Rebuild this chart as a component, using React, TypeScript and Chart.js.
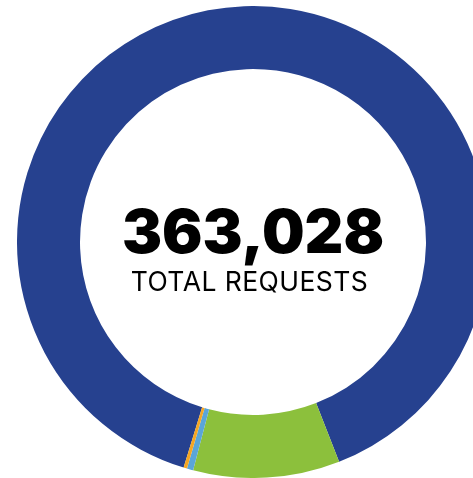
import React, { useEffect, useRef } from "react";
import { Chart, registerables } from "chart.js";

Chart.register(...registerables);

const categories = ["Category A", "Category B", "Category C", "Category D"];
const values = [324208, 36400, 1560, 860];
const colors = ["#26418f", "#8cc03c", "#5aa5d8", "#f5a623"];
const totalLabel = "363,028";
const subLabel = "TOTAL REQUESTS";

export default function App() {
  const ref = useRef<HTMLCanvasElement | null>(null);

  useEffect(() => {
    if (!ref.current) return;
    const chart = new Chart(ref.current, {
      type: "doughnut",
      data: {
        labels: categories,
        datasets: [
          {
            data: values,
            backgroundColor: colors,
            borderWidth: 0,
          },
        ],
      },
      options: {
        animation: false,
        responsive: true,
        maintainAspectRatio: false,
        cutout: "73.3%",
        rotation: 197.1,
        layout: { padding: 0 },
        plugins: {
          legend: { display: false },
          tooltip: { enabled: false },
        },
      },
    });
    return () => chart.destroy();
  }, []);

  return (
    <div
      style={{
        position: "fixed",
        left: 0,
        top: 0,
        width: 473,
        height: 478,
        overflow: "hidden",
        background: "#fff",
      }}
    >
      <div
        style={{
          position: "absolute",
          left: 17,
          top: 5.5,
          width: 472,
          height: 472,
        }}
      >
        <canvas ref={ref} />
      </div>
      <div
        style={{
          position: "absolute",
          left: 0,
          width: 506,
          top: 200.8,
          textAlign: "center",
          fontFamily: "Inter, sans-serif",
          fontWeight: 900,
          fontSize: 60,
          lineHeight: 1,
          color: "#000",
          whiteSpace: "nowrap",
        }}
      >
        {totalLabel}
      </div>
      <div
        style={{
          position: "absolute",
          left: 0,
          width: 499,
          top: 268.1,
          textAlign: "center",
          fontFamily: "Inter, sans-serif",
          fontWeight: 400,
          fontSize: 26.5,
          letterSpacing: 0.45,
          lineHeight: 1,
          color: "#000",
          whiteSpace: "nowrap",
        }}
      >
        {subLabel}
      </div>
    </div>
  );
}
